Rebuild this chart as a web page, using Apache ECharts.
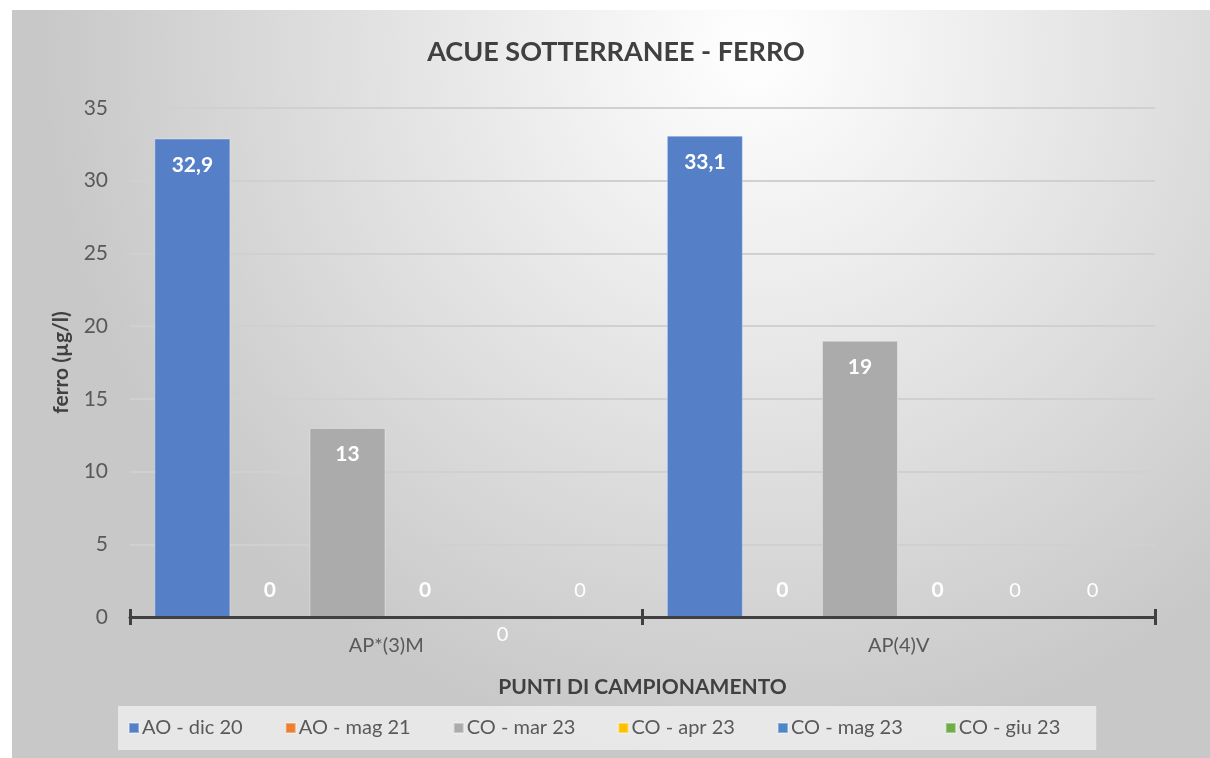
<!DOCTYPE html>
<html>
<head>
<meta charset="utf-8">
<title>ACUE SOTTERRANEE - FERRO</title>
<script src="https://cdn.jsdelivr.net/npm/echarts@6/dist/echarts.min.js"></script>
<style>
html, body { margin: 0; padding: 0; background: #ffffff; }
#chart { width: 1210px; height: 758px; }
</style>
</head>
<body>
<div id="chart"></div>
<script>
// dati
var categories = ['AP*(3)M', 'AP(4)V'];
var seriesNames = ['AO - dic 20', 'AO - mag 21', 'CO - mar 23', 'CO - apr 23', 'CO - mag 23', 'CO - giu 23'];
var aoDic20 = [32.9, 33.1];
var aoMag21 = [0, 0];
var coMar23 = [13, 19];
var coApr23 = [0, 0];
var coMag23 = [0, 0];
var coGiu23 = [0, 0];
var yTicks = [0, 5, 10, 15, 20, 25, 30, 35];

var colors = ['#5580c8', '#ed7d31', '#ababab', '#ffc000', '#4a86c8', '#70ad47'];
var font = 'Lato, "Open Sans", sans-serif';

function fmt(p) {
	return String(p.value).replace('.', ',');
}

// etichette: barre >0 dentro in alto, barre a zero sopra l'asse
function makeData(values, below) {
	return values.map(function(v, i) {
		var lab;
		if (below && below[i]) {
			lab = { position: 'bottom', distance: 7 };
		} else if (v > 0) {
			lab = { position: 'insideTop', distance: 16 };
		} else {
			lab = { position: 'top', distance: 16 };
		}
		return { value: v, label: lab };
	});
}

function makeSeries(idx, values, bold, below) {
	return {
		name: seriesNames[idx],
		type: 'bar',
		barGap: '2%',
		barCategoryGap: '9.5%',
		itemStyle: {
			color: colors[idx],
			borderColor: 'rgba(255,255,255,0.35)',
			borderWidth: 1
		},
		label: {
			show: true,
			color: '#ffffff',
			fontFamily: font,
			fontSize: bold ? 21 : 20,
			fontWeight: bold ? 'bold' : 'normal',
			formatter: fmt
		},
		data: makeData(values, below)
	};
}

var chart = echarts.init(document.getElementById('chart'));
var option = {
	backgroundColor: '#ffffff',
	animation: false,
	textStyle: { fontFamily: font },
	graphic: [{
		type: 'rect',
		z: -10,
		silent: true,
		shape: { x: 12, y: 10, width: 1198, height: 748 },
		style: {
			fill: {
				type: 'radial',
				x: 0.62, y: 0.05, r: 0.95,
				colorStops: [
					{ offset: 0, color: '#ffffff' },
					{ offset: 1, color: '#c8c8c8' }
				]
			}
		}
	}],
	title: {
		text: 'ACUE SOTTERRANEE - FERRO',
		left: 611,
		top: 34,
		textAlign: 'center',
		textStyle: { color: '#404040', fontSize: 27, fontWeight: 'bold', fontFamily: font }
	},
	legend: {
		data: seriesNames,
		left: 118,
		top: 706,
		width: 1080,
		backgroundColor: 'rgba(242,242,242,0.75)',
		padding: [12, 36, 12, 10],
		itemGap: 42,
		itemWidth: 10,
		itemHeight: 10,
		icon: 'rect',
		textStyle: { color: '#595959', fontSize: 20, fontFamily: font, padding: [0, 0, 0, -2] }
	},
	grid: {
		left: 130,
		right: 55,
		top: 108,
		bottom: 141,
		containLabel: false
	},
	xAxis: [{
		type: 'category',
		data: categories,
		name: 'PUNTI DI CAMPIONAMENTO',
		nameLocation: 'middle',
		nameGap: 60,
		nameTextStyle: { color: '#404040', fontSize: 21, fontWeight: 'bold', fontFamily: font },
		axisLine: { show: true, lineStyle: { color: '#404040', width: 3 } },
		axisTick: { show: true, inside: false, length: 8, lineStyle: { color: '#404040', width: 3 } },
		axisLabel: { color: '#595959', fontSize: 20, margin: 19, fontFamily: font },
		z: 5
	}, {
		type: 'category',
		data: categories,
		position: 'bottom',
		axisLine: { show: false },
		axisTick: { show: true, inside: true, length: 8, lineStyle: { color: '#404040', width: 3 } },
		axisLabel: { show: false },
		z: 5
	}],
	yAxis: {
		type: 'value',
		min: yTicks[0],
		max: yTicks[yTicks.length - 1],
		interval: 5,
		name: 'ferro (µg/l)',
		nameLocation: 'middle',
		nameGap: 58,
		nameTextStyle: { color: '#404040', fontSize: 21, fontWeight: 'bold', fontFamily: font },
		axisLine: { show: false },
		axisTick: { show: false },
		axisLabel: { color: '#595959', fontSize: 21, margin: 22, fontFamily: font },
		splitLine: { lineStyle: { color: '#d0d0d0', width: 2 } }
	},
	series: [
		makeSeries(0, aoDic20, true),
		makeSeries(1, aoMag21, true),
		makeSeries(2, coMar23, true),
		makeSeries(3, coApr23, true),
		makeSeries(4, coMag23, false, [true, false]),
		makeSeries(5, coGiu23, false)
	]
};
chart.setOption(option);
</script>
</body>
</html>
